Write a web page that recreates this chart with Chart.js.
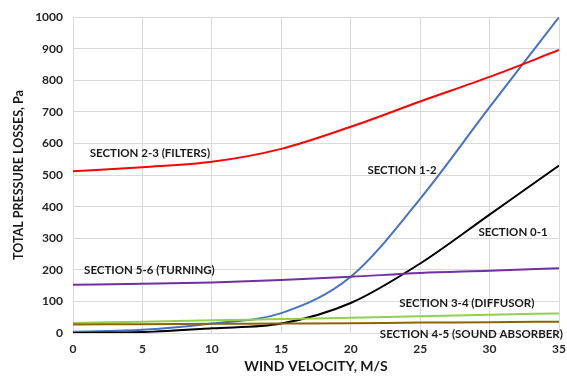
<!DOCTYPE html>
<html>
<head>
<meta charset="utf-8">
<script src="https://cdn.jsdelivr.net/npm/chart.js@4/dist/chart.umd.min.js"></script>
<style>
  html, body { margin: 0; padding: 0; background: #fff; }
  #wrap { width: 567px; height: 377px; position: relative; }
</style>
</head>
<body>
<div id="wrap"><canvas id="c" width="567" height="377"></canvas></div>
<script>
// Wind velocity, m/s
const velocity = [0, 5, 10, 15, 20, 25, 30, 35];

// Total pressure losses per section, Pa
const section01 = [0, 3, 15, 30, 95, 220, 375, 530];
const section12 = [4, 10, 30, 63, 178, 425, 715, 1000];
const section23 = [512, 525, 542, 583, 653, 733, 811, 896];
const section34 = [32, 36, 40, 44, 48, 53, 58, 62];
const section45 = [27, 28, 29, 30, 31, 33, 34, 36];
const section56 = [153, 156, 160, 168, 178, 190, 197, 205];

const yTicks = [0, 100, 200, 300, 400, 500, 600, 700, 800, 900, 1000];
const xTicks = [0, 5, 10, 15, 20, 25, 30, 35];

// Curve captions, anchored in data coordinates (velocity, Pa)
const captions = [
  { text: 'SECTION 2-3 (FILTERS)', x: 1.2, y: 568 },
  { text: 'SECTION 1-2', x: 21.2, y: 514 },
  { text: 'SECTION 0-1', x: 29.2, y: 318 },
  { text: 'SECTION 5-6 (TURNING)', x: 0.8, y: 199 },
  { text: 'SECTION 3-4 (DIFFUSOR)', x: 23.5, y: 94 },
  { text: 'SECTION 4-5 (SOUND ABSORBER)', x: 22.1, y: -3 }
];

const FONT = 'Lato, "Open Sans", sans-serif';

const toPoints = arr => arr.map((v, i) => ({ x: velocity[i], y: v }));

const captionPlugin = {
  id: 'captions',
  afterDatasetsDraw(chart) {
    const ctx = chart.ctx;
    const xs = chart.scales.x, ys = chart.scales.y;
    ctx.save();
    ctx.font = 'bold 11.5px ' + FONT;
    ctx.fillStyle = '#1a1a1a';
    ctx.textBaseline = 'middle';
    ctx.textAlign = 'left';
    captions.forEach(c => {
      ctx.fillText(c.text, xs.getPixelForValue(c.x), ys.getPixelForValue(c.y));
    });
    ctx.restore();
  }
};

const mk = (label, data, color) => ({
  label,
  data: toPoints(data),
  borderColor: color,
  backgroundColor: color,
  borderWidth: 2,
  pointRadius: 0,
  cubicInterpolationMode: 'monotone',
  fill: false
});

new Chart(document.getElementById('c'), {
  type: 'line',
  data: {
    datasets: [
      mk('SECTION 4-5 (SOUND ABSORBER)', section45, '#8C6400'),
      mk('SECTION 3-4 (DIFFUSOR)', section34, '#92D050'),
      mk('SECTION 5-6 (TURNING)', section56, '#7030A0'),
      mk('SECTION 2-3 (FILTERS)', section23, '#FF0000'),
      mk('SECTION 0-1', section01, '#000000'),
      mk('SECTION 1-2', section12, '#4472C4')
    ]
  },
  options: {
    responsive: false,
    animation: false,
    layout: { padding: { top: 16, right: 0, bottom: 0, left: 0 } },
    plugins: { legend: { display: false }, tooltip: { enabled: false } },
    scales: {
      x: {
        type: 'linear',
        min: 0, max: 35,
        afterBuildTicks: s => { s.ticks = xTicks.map(v => ({ value: v })); },
        afterFit: s => { s.height = 44; s.paddingRight = 8; s.paddingLeft = 0; },
        grid: { color: '#d9d9d9', lineWidth: 1, drawTicks: false },
        border: { display: false },
        ticks: { color: '#262626', font: { family: FONT, size: 12, weight: 'bold' }, padding: 9, maxRotation: 0, callback: v => String(v) },
        title: { display: true, text: 'WIND VELOCITY, M/S', color: '#1a1a1a', font: { family: FONT, size: 14, weight: 'bold' }, padding: { top: 0, bottom: 2 } }
      },
      y: {
        type: 'linear',
        min: 0, max: 1000,
        afterBuildTicks: s => { s.ticks = yTicks.map(v => ({ value: v })); },
        afterFit: s => { s.width = 73; },
        grid: { color: '#d9d9d9', lineWidth: 1, drawTicks: false },
        border: { display: false },
        ticks: { color: '#262626', font: { family: FONT, size: 12, weight: 'bold' }, padding: 10, callback: v => String(v) },
        title: { display: true, text: 'TOTAL PRESSURE LOSSES, Pa', color: '#1a1a1a', font: { family: FONT, size: 12.5, weight: 'bold' }, padding: { top: 11, bottom: 0 } }
      }
    }
  },
  plugins: [captionPlugin]
});
</script>
</body>
</html>
